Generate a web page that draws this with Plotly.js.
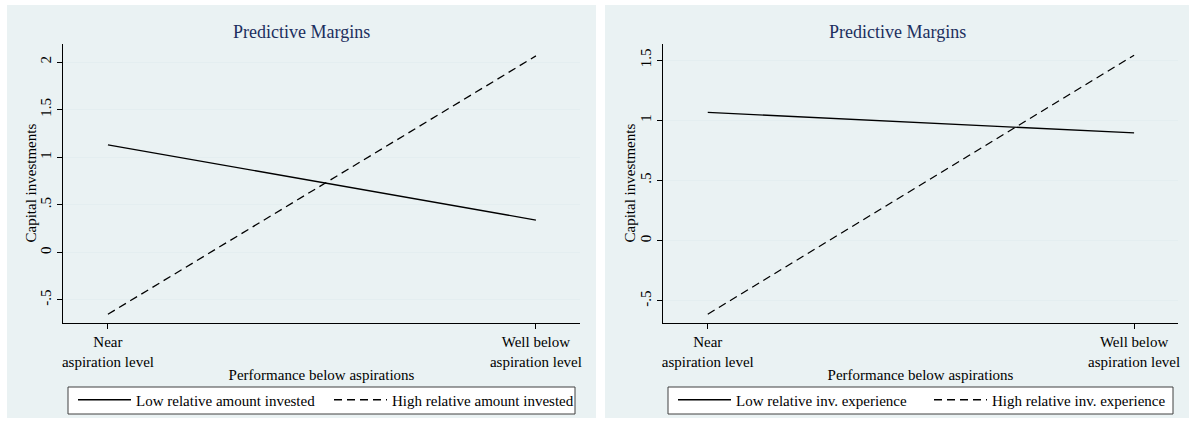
<!DOCTYPE html>
<html><head><meta charset="utf-8">
<script src="https://cdn.plot.ly/plotly-3.0.1.min.js"></script>
<style>html,body{margin:0;padding:0;background:#fff}#chart{width:1189px;height:430px}</style>
</head><body><div id="chart"></div>
<script>
// ---- data ----
const categories = ['Near<br>aspiration level', 'Well below<br>aspiration level'];
const lowAmount = [1.13, 0.34];
const highAmount = [-0.65, 2.065];
const lowExperience = [1.065, 0.895];
const highExperience = [-0.61, 1.54];
const leftYTickVals = [-0.5, 0, 0.5, 1, 1.5, 2];
const leftYTickText = ['-.5', '0', '.5', '1', '1.5', '2'];
const rightYTickVals = [-0.5, 0, 0.5, 1, 1.5];
const rightYTickText = ['-.5', '0', '.5', '1', '1.5'];
const seriesNames = ['Low relative amount invested', 'High relative amount invested',
                     'Low relative inv. experience', 'High relative inv. experience'];
const panelTitle = 'Predictive Margins';
const xTitle = 'Performance below aspirations';
const yTitle = 'Capital investments';

// ---- layout helpers ----
const W = 1189, H = 430;
const px = v => v / W;
const py = v => 1 - v / H;
const FONT = 'Liberation Serif, Times New Roman, serif';
const BG = '#eaf2f3';
const GRID = '#e4eef0';
const FS = 15;

const solid = {color: '#000', width: 1.3};
const dashed = {color: '#000', width: 1.3, dash: '8px,5px'};

const traces = [
  {x: categories, y: lowAmount, name: seriesNames[0], mode: 'lines', line: solid, xaxis: 'x', yaxis: 'y', legend: 'legend'},
  {x: categories, y: highAmount, name: seriesNames[1], mode: 'lines', line: dashed, xaxis: 'x', yaxis: 'y', legend: 'legend'},
  {x: categories, y: lowExperience, name: seriesNames[2], mode: 'lines', line: solid, xaxis: 'x2', yaxis: 'y2', legend: 'legend2'},
  {x: categories, y: highExperience, name: seriesNames[3], mode: 'lines', line: dashed, xaxis: 'x2', yaxis: 'y2', legend: 'legend2'}
];

function xAxis(domain, anchor) {
  return {
    domain: domain, anchor: anchor, type: 'category', range: [-0.105, 1.103],
    showline: true, linecolor: '#000', linewidth: 1, ticks: 'outside', ticklen: 5, tickcolor: '#000',
    showgrid: false, zeroline: false, tickfont: {family: FONT, size: FS, color: '#000'},
    title: {text: xTitle, font: {family: FONT, size: FS, color: '#000'}, standoff: 0},
    fixedrange: true
  };
}
function yAxis(domain, anchor, range, vals, text) {
  return {
    domain: domain, anchor: anchor, range: range, tickvals: vals, ticktext: text, tickangle: -90,
    showline: true, linecolor: '#000', linewidth: 1, ticks: 'outside', ticklen: 5, tickcolor: '#000',
    showgrid: true, gridcolor: GRID, gridwidth: 1, zeroline: false,
    tickfont: {family: FONT, size: FS, color: '#000'},
    fixedrange: true
  };
}
function legendAt(x) {
  return {
    orientation: 'h', x: px(x), xanchor: 'left', y: py(400), yanchor: 'middle',
    bgcolor: 'rgba(0,0,0,0)', borderwidth: 0, itemwidth: 53, entrywidth: 188,
    font: {family: FONT, size: FS, color: '#000'}, itemclick: false, itemdoubleclick: false
  };
}
function yTitleAt(x) {
  return {text: yTitle, xref: 'paper', yref: 'paper', x: px(x), y: py(183.5), xanchor: 'center', yanchor: 'middle',
          textangle: -90, showarrow: false, font: {family: FONT, size: FS, color: '#000'}};
}
function panelTitleAt(x) {
  return {text: panelTitle, xref: 'paper', yref: 'paper', x: px(x), y: py(32), xanchor: 'center', yanchor: 'middle',
          showarrow: false, font: {family: FONT, size: 18, color: '#1c2f5e'}};
}

const yDom = [py(323), py(44)];
const layout = {
  width: W, height: H, margin: {l: 0, r: 0, t: 0, b: 0},
  paper_bgcolor: '#fff', plot_bgcolor: '#fff', showlegend: true,
  xaxis: xAxis([px(63), px(580)], 'y'),
  yaxis: yAxis(yDom, 'x', [-0.742, 2.19], leftYTickVals, leftYTickText),
  xaxis2: xAxis([px(663), px(1178)], 'y2'),
  yaxis2: yAxis(yDom, 'x2', [-0.683, 1.633], rightYTickVals, rightYTickText),
  legend: legendAt(73),
  legend2: legendAt(673),
  shapes: [
    {type: 'rect', xref: 'paper', yref: 'paper', x0: px(7), x1: px(596), y0: py(418), y1: py(5), fillcolor: BG, line: {width: 0}, layer: 'below'},
    {type: 'rect', xref: 'paper', yref: 'paper', x0: px(605), x1: px(1189), y0: py(418), y1: py(5), fillcolor: BG, line: {width: 0}, layer: 'below'},
    {type: 'rect', xref: 'paper', yref: 'paper', x0: px(68), x1: px(575), y0: py(414), y1: py(387), fillcolor: '#fff', line: {color: '#404040', width: 1}, layer: 'below'},
    {type: 'rect', xref: 'paper', yref: 'paper', x0: px(668), x1: px(1173), y0: py(414), y1: py(387), fillcolor: '#fff', line: {color: '#404040', width: 1}, layer: 'below'}
  ],
  annotations: [panelTitleAt(301.5), panelTitleAt(897), yTitleAt(30), yTitleAt(629)]
};

Plotly.newPlot('chart', traces, layout, {displayModeBar: false, staticPlot: true});
</script>
</body></html>
